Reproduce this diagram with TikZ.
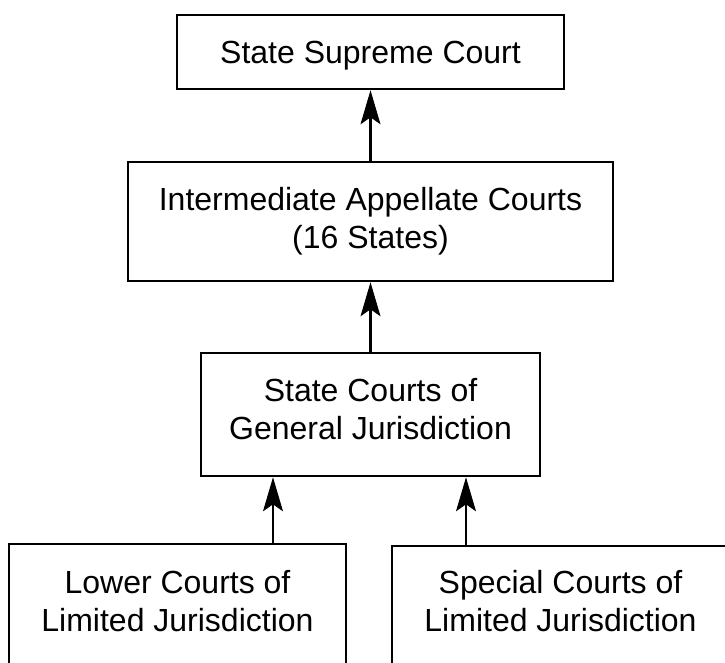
\documentclass[tikz,border=0pt]{standalone}
\usepackage{fontspec}
\setmainfont{Liberation Sans}
\usetikzlibrary{positioning,arrows.meta}
\newcommand\courtsize{\fontsize{32}{38}\selectfont}

\begin{document}
\begin{tikzpicture}[x=1pt,y=-1pt,
  court/.style={draw,line width=2.6pt,align=center,font=\courtsize,inner sep=0pt},
  lowcourt/.style={court,minimum width=337pt,inner ysep=26.7pt,text depth=40pt},
  appeal/.style={line width=2.6pt,-{Stealth[length=34pt,width=20pt,inset=7pt,line width=1pt]}}]
\useasboundingbox (0,0) rectangle (725,662);
\clip (0,0) rectangle (725,662);

% the chain of courts
\node[court,minimum width=387pt,minimum height=74pt,text height=23pt,text depth=1pt](supreme) at (370.5,52){State Supreme Court};
\node[court,minimum width=485pt,minimum height=119pt,text depth=8pt,below=70.4pt of supreme](inter){Intermediate Appellate Courts\\(16 States)};
\node[court,minimum width=339pt,minimum height=123pt,text depth=11pt,below=69.4pt of inter](general){State Courts of\\General Jurisdiction};
\node[lowcourt,below=65.4pt of general,xshift=-193pt](lower){Lower Courts of\\Limited Jurisdiction};
\node[lowcourt,inner ysep=24pt,below=67.4pt of general,xshift=190pt](special){Special Courts of\\Limited Jurisdiction};

\coordinate (lowfoot) at ([xshift=-97.5pt]general.south);
\coordinate (specfoot) at ([xshift=95.5pt]general.south);

\draw[appeal] (inter) -- (supreme);
\draw[appeal] (general) -- (inter);
\draw[appeal] (lowfoot |- lower.north) -- (lowfoot);
\draw[appeal] (specfoot |- special.north) -- (specfoot);

\end{tikzpicture}
\end{document}
